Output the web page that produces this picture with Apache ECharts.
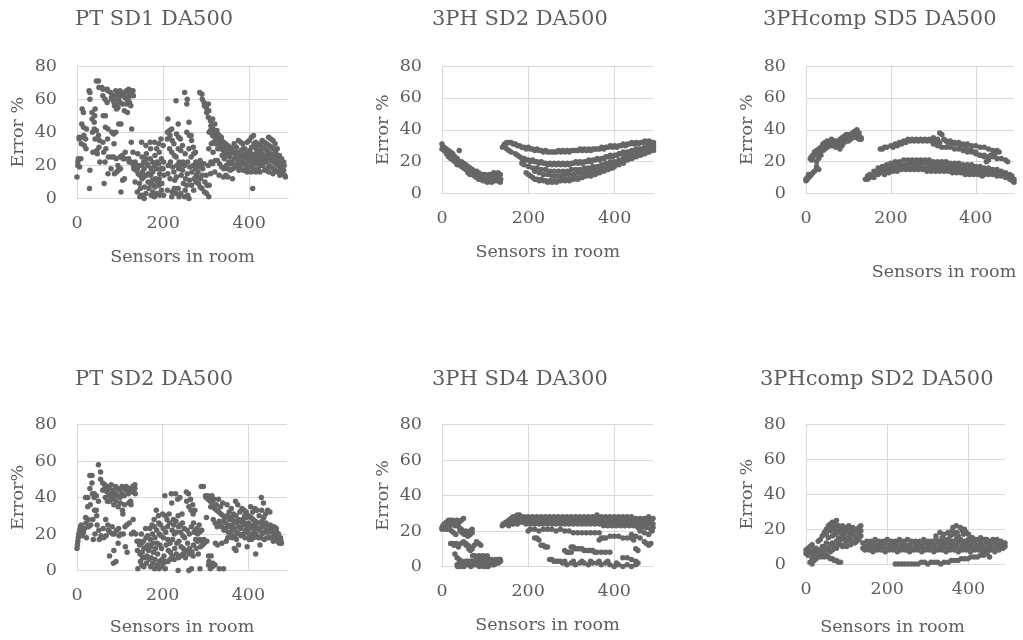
<!DOCTYPE html>
<html>
<head>
<meta charset="utf-8">
<script src="https://cdn.jsdelivr.net/npm/echarts@6/dist/echarts.min.js"></script>
<style>html,body{margin:0;padding:0;background:#fff;}#c{width:1023px;height:640px;}</style>
</head>
<body>
<div id="c"></div>
<script>
// ---------- DATA (x = sensor index, y = error %) ----------
const panelTitles = ['PT SD1 DA500','3PH SD2 DA500','3PHcomp SD5 DA500','PT SD2 DA500','3PH SD4 DA300','3PHcomp SD2 DA500'];
const yAxisNames = ['Error %','Error %','Error %','Error%','Error %','Error %'];
const xAxisName = 'Sensors in room';
const yTicks = [0,20,40,60,80];
const xTicks = [0,200,400];

const ptSd1Da500 = [
[0,13],[2,20],[2,22],[3,24],[5,37],[5,36],[6,19],[9,24],[10,37],[10,33],[11,45],[12,54],
[15,52],[15,43],[16,38],[17,32],[20,36],[21,30],[22,42],[28,65],[30,64],[30,60],[30,17],[29,6],
[35,52],[35,48],[36,40],[37,28],[40,42],[40,46],[41,50],[42,36],[42,54],[45,71],[45,41],[46,29],[47,27],
[50,71],[51,67],[50,38],[52,35],[51,31],[53,22],[58,67],[60,66],[60,62],[61,50],[60,34],[62,28],[63,9],
[65,60],[66,50],[66,43],[67,30],[65,22],[70,66],[71,65],[70,58],[72,42],[71,36],[73,25],[72,15],
[78,64],[80,61],[80,60],[81,40],[80,25],[79,18],[85,62],[85,59],[86,58],[87,56],[85,39],[86,33],[85,25],[87,15],
[90,65],[91,62],[90,57],[92,54],[90,40],[91,24],[92,16],[95,64],[96,60],[95,55],[97,45],[95,20],[96,17],
[100,65],[101,62],[100,58],[102,45],[100,25],[101,18],[102,4],[105,63],[106,57],[105,26],[107,24],[106,11],
[110,64],[111,61],[110,53],[112,28],[111,24],[110,12],[115,65],[116,60],[115,57],[117,52],
[120,66],[121,63],[120,61],[122,58],[120,24],[121,22],[125,64],[126,65],[125,56],[127,42],[126,34],[125,22],
[130,65],[131,62],[130,28],[132,18],[131,20],[135,22],[136,20],[137,17],[135,10],[140,18],[141,27],[142,15],[140,4],
[145,20],[146,14],[145,9],[147,6],[146,1],[150,34],[151,25],[150,20],[152,16],[151,12],[150,2],
[155,22],[156,18],[155,13],[157,7],[156,0],[160,32],[161,27],[160,24],[162,21],[161,14],[160,3],
[165,20],[166,15],[165,10],[167,6],[170,34],[171,30],[170,24],[172,18],[171,14],[170,9],[172,2],
[175,22],[176,16],[175,11],[177,8],[176,4],[180,34],[181,26],[180,20],[182,12],[181,7],[180,1],
[185,30],[186,22],[185,18],[187,10],[186,3],[190,33],[191,28],[190,21],[192,15],[191,12],[190,8],[192,2],
[195,36],[196,24],[195,18],[197,9],[196,5],[200,32],[201,22],[200,18],[202,14],[201,2],
[210,40],[211,48],[210,36],[212,20],[211,15],[210,5],[215,41],[216,38],[215,30],[217,22],[216,12],
[220,42],[221,35],[220,28],[222,19],[221,4],[220,1],[225,33],[226,26],[225,16],[227,11],[226,6],
[230,59],[231,39],[230,25],[232,20],[231,13],[230,3],[235,45],[236,37],[235,30],[237,22],[236,18],[235,6],[237,1],
[240,36],[241,29],[240,20],[242,14],[241,3],[245,32],[246,22],[245,17],[247,9],
[250,64],[251,27],[250,20],[252,12],[251,5],[250,1],[255,57],[256,60],[255,40],[257,22],[256,15],[255,8],[257,2],
[260,46],[261,38],[260,30],[262,19],[261,11],[260,0],[265,38],[266,35],[265,25],[267,16],[266,8],
[270,31],[271,27],[270,20],[272,12],[271,5],[275,28],[276,22],[275,18],[277,14],[276,10],
[280,20],[281,16],[280,13],[282,9],[285,64],[286,23],[285,19],[287,12],[286,7],
[290,63],[291,60],[290,21],[292,18],[291,14],[290,6],[295,58],[296,56],[295,21],[297,10],[296,4],
[300,55],[301,52],[300,14],[302,8],[301,3],[305,57],[306,53],[305,49],[307,40],[306,30],[305,20],[307,8],[306,1],
[310,47],[311,44],[310,41],[312,33],[311,22],[310,15],[315,48],[316,42],[315,38],[317,34],[316,28],[315,21],
[320,45],[321,40],[320,37],[322,33],[321,23],[320,16],[325,41],[326,39],[325,36],[327,30],[326,23],
[330,38],[331,36],[330,33],[332,30],[331,21],[330,14],[335,37],[336,35],[335,31],[337,26],[336,19],
[340,34],[341,32],[340,29],[342,24],[341,18],[340,13],[345,33],[346,30],[345,27],[347,20],[346,14],
[350,32],[351,29],[350,26],[352,22],[351,18],[350,13],[355,31],[356,28],[355,25],[357,21],[356,17],
[360,30],[361,28],[360,22],[362,18],[361,12],[365,33],[366,27],[365,24],[367,20],
[370,31],[371,28],[370,24],[372,21],[371,19],[375,35],[376,26],[375,23],[377,20],[376,17],
[380,34],[381,29],[380,25],[382,22],[381,18],[385,33],[386,30],[385,26],[387,21],[386,17],
[390,30],[391,27],[390,24],[392,20],[391,17],[395,34],[396,27],[395,25],[397,22],[396,18],[395,16],
[400,35],[401,29],[400,26],[402,23],[401,19],[408,6],[405,37],[406,31],[405,27],[407,24],[406,20],[405,16],
[410,38],[411,33],[410,26],[412,22],[411,18],[415,34],[416,30],[415,27],[417,24],[416,21],[415,16],
[420,32],[421,28],[420,25],[422,22],[421,18],[425,33],[426,29],[425,26],[427,23],[426,20],[425,16],
[430,35],[431,31],[430,27],[432,24],[431,20],[435,34],[436,30],[435,26],[437,22],[436,17],
[440,33],[441,29],[440,26],[442,23],[441,18],[445,37],[446,32],[445,28],[447,24],[446,20],[445,16],
[450,36],[451,31],[450,27],[452,23],[451,19],[455,35],[456,30],[455,26],[457,22],[456,18],[455,15],
[460,33],[461,28],[460,24],[462,21],[461,17],[465,30],[466,26],[465,23],[467,20],[466,16],
[470,26],[471,22],[470,20],[472,17],[471,14],[475,24],[476,21],[475,18],[477,15],[480,22],[481,20],[480,17],[482,14],[484,13]
];

const ph3Sd2Da500 = [
[0,31],[5,29],[10,28],[15,27],[20,26],[25,25],[30,23],[35,22],[40,27],[45,20],[50,19],[55,18],[60,17],[65,16],[70,15],[75,14],[80,14],[85,13],[90,12],[95,12],[100,12],[105,11],[110,12],[115,12],[120,13],[125,12],[130,13],[135,12],
[2,29],[7,28],[12,26],[17,25],[22,24],[27,23],[32,21],[37,20],[42,20],[47,18],[52,17],[57,16],[62,15],[67,14],[72,13],[77,12],[82,11],[87,11],[92,10],[97,10],[102,10],[107,9],[112,10],[117,10],[122,10],[127,10],[132,10],[136,9],
[0,28],[5,27],[10,25],[15,23],[20,22],[25,21],[30,20],[35,18],[40,18],[45,17],[50,16],[55,15],[60,13],[65,12],[70,12],[75,11],[80,10],[85,9],[90,9],[95,8],[100,8],[105,7],[110,8],[115,7],[120,8],[125,8],[130,8],[135,7],
[140,29],[145,31],[150,32],[155,32],[160,32],[170,31],[180,30],[190,29],[200,29],[210,28],[220,28],[230,27],[240,27],[250,26],[260,26],[270,27],[280,27],[290,27],[300,27],[310,27],[320,28],[330,28],[340,28],[350,28],[360,28],[370,29],[380,29],[390,30],[400,30],[410,30],[420,31],[430,31],[440,32],[450,32],[460,32],[470,33],[480,33],[490,32],
[143,30],[148,31],[165,31],[175,30],[185,29],[195,28],[205,28],[215,27],[225,27],[235,26],[245,26],[255,26],[265,26],[275,26],[285,26],[295,26],[305,27],[315,27],[325,27],[335,27],[345,27],[355,28],[365,28],[375,28],[385,29],[395,29],[405,29],[415,30],[425,30],[435,31],[445,31],[455,31],[465,32],[475,32],[485,31],
[150,28],[155,27],[160,26],[170,25],[180,23],[190,22],[200,21],[210,21],[220,20],[230,20],[240,19],[250,19],[260,19],[270,19],[280,19],[290,19],[300,19],[310,20],[320,20],[330,20],[340,21],[350,21],[360,22],[370,22],[380,23],[390,24],[400,24],[410,25],[420,26],[430,26],[440,27],[450,28],[460,28],[470,29],[480,30],[490,30],
[175,24],[185,22],[195,21],[205,20],[215,20],[225,19],[235,19],[245,18],[255,18],[265,18],[275,18],[285,18],[295,18],[305,19],[315,19],[325,19],[335,20],[345,20],[355,21],[365,21],[375,22],[385,23],[395,23],[405,24],[415,25],[425,25],[435,26],[445,27],[455,27],[465,28],[475,29],[485,29],
[185,19],[190,18],[200,17],[210,16],[220,16],[230,15],[240,15],[250,14],[260,14],[270,14],[280,14],[290,14],[300,15],[310,15],[320,15],[330,16],[340,16],[350,17],[360,17],[370,18],[380,19],[390,20],[400,20],[410,21],[420,22],[430,23],[440,24],[450,25],[460,26],[470,27],[480,28],[490,29],
[215,14],[225,13],[235,12],[245,12],[255,11],[265,11],[275,11],[285,12],[295,12],[305,12],[315,13],[325,13],[335,14],[345,14],[355,15],[365,16],[375,16],[385,17],[395,18],[405,19],[415,20],[425,21],[435,22],[445,23],[455,24],[465,25],[475,26],
[195,13],[200,12],[210,10],[220,9],[230,9],[240,8],[250,8],[260,8],[270,8],[280,9],[290,9],[300,9],[310,10],[320,10],[330,11],[340,12],[350,12],[360,13],[370,14],[380,15],[390,16],[400,17],[410,18],[420,19],[430,21],[440,22],[450,23],[460,24],[470,25],[480,26],[490,27],
[205,11],[215,9],[225,8],[235,8],[245,7],[255,7],[265,7],[275,8],[285,8],[295,8],[305,9],[315,9],[325,10],[335,11],[345,11],[355,12],[365,13],[375,14],[385,15],[395,16]
];

const ph3compSd5Da500 = [
[0,8],[0,9],[3,9],[3,10],[6,10],[6,12],[10,11],[10,22],[13,12],[13,23],[13,21],[16,13],[16,24],[16,22],[20,14],[20,26],[20,24],
[25,16],[25,17],[25,27],[25,25],[25,20],[30,15],[30,28],[30,26],[30,22],[35,29],[35,27],[35,24],[40,31],[40,29],[40,27],
[45,32],[45,30],[45,28],[50,33],[50,31],[50,29],[55,32],[55,30],[60,34],[60,32],[60,30],[65,33],[65,31],[70,33],[70,31],[70,29],
[75,32],[75,30],[80,34],[80,31],[80,28],[85,35],[85,33],[85,30],[90,36],[90,34],[90,32],[95,37],[95,35],[95,33],
[100,37],[100,35],[100,33],[105,36],[105,34],[110,38],[110,36],[110,35],[115,39],[115,37],[120,40],[120,37],[120,35],[125,38],[125,36],[125,34],[130,35],[130,34],
[140,9],[145,11],[150,12],[160,14],[170,16],[180,17],[190,18],[200,19],[210,20],[220,20],[230,21],[240,21],[250,21],[260,21],[270,21],[280,21],[290,21],[300,20],[310,20],[320,20],[330,20],[340,19],[350,19],[360,19],[370,18],[380,18],[390,18],[400,17],[410,17],[420,16],[430,16],[440,15],[450,15],[460,14],[470,13],[480,12],[485,11],[490,9],
[145,9],[150,10],[155,11],[165,13],[175,14],[185,15],[195,16],[205,17],[215,18],[225,18],[235,18],[245,19],[255,19],[265,19],[275,19],[285,19],[295,18],[305,18],[315,18],[325,18],[335,17],[345,17],[355,17],[365,16],[375,16],[385,16],[395,15],[405,15],[415,14],[425,14],[435,13],[445,13],[455,13],[465,12],[475,11],[483,10],[488,8],
[160,10],[170,12],[180,13],[190,14],[200,15],[210,15],[220,16],[230,16],[240,16],[250,17],[260,17],[270,17],[280,16],[290,16],[300,16],[310,16],[320,16],[330,15],[340,15],[350,15],[360,14],[370,14],[380,14],[390,13],[400,13],[410,13],[420,12],[430,12],[440,12],[450,11],[460,11],[470,10],[480,9],[486,8],[490,7],
[185,12],[195,13],[205,14],[215,14],[225,15],[235,15],[245,15],[255,15],[265,15],[275,15],[285,14],[295,14],[305,14],[315,14],[325,14],[335,14],[345,13],[355,13],[365,13],[375,12],[385,12],[395,12],[405,12],[415,11],
[175,28],[180,28],[185,29],[190,29],[200,30],[210,31],[220,32],[230,33],[240,34],[250,34],[260,34],[270,34],[280,34],[290,34],[300,35],[310,34],[315,38],[320,37],[325,34],[330,33],[340,33],[350,32],[360,32],[370,31],[380,31],[390,30],[400,30],[410,29],[420,29],[430,28],[440,27],[450,27],[455,26],
[205,29],[215,30],[225,31],[235,32],[245,33],[255,33],[265,33],[275,33],[285,33],[295,33],[305,32],[315,32],[335,32],[345,31],[355,31],[365,30],[375,30],
[300,31],[310,30],[320,29],[330,29],[340,29],[350,28],[360,28],[370,27],[380,26],[390,26],[400,25],[410,24],[420,24],[430,23],[440,23],[450,22],[460,22],[470,21],[475,20],
[380,28],[390,27],[400,26],[410,24],[420,23],[425,20],[430,21],[435,24],[445,25]
];

const ptSd2Da500 = [
[0,12],[1,14],[2,16],[3,18],[4,20],[6,22],[8,24],[10,25],[12,19],[15,21],[18,23],
[20,40],[20,29],[21,26],[22,18],[25,40],[25,35],[26,28],[27,24],[30,52],[30,45],[31,36],[32,25],
[35,52],[35,48],[36,42],[37,28],[38,17],[40,42],[40,40],[41,33],[42,20],[45,41],[45,33],[46,30],[47,25],
[50,58],[50,38],[51,22],[52,17],[55,54],[55,50],[56,19],[60,48],[60,44],[61,23],[62,18],
[65,47],[65,45],[66,40],[67,28],[68,19],[70,46],[70,43],[71,38],[72,25],[73,22],[75,45],[75,41],[76,38],[77,21],[76,8],
[80,47],[80,42],[81,39],[82,24],[83,20],[85,44],[85,40],[86,36],[87,20],[86,11],[85,4],[90,46],[90,42],[91,38],[92,22],[91,5],
[95,45],[95,41],[96,35],[97,23],[98,19],[96,15],[100,44],[100,40],[101,37],[102,20],[105,46],[105,42],[106,33],[107,31],[108,20],
[110,45],[110,41],[111,36],[112,24],[113,13],[115,46],[115,44],[116,25],[117,10],[120,45],[120,42],[121,37],[122,26],
[125,44],[125,38],[126,36],[127,20],[130,46],[130,43],[131,28],[132,21],[135,47],[135,45],[136,42],[137,20],
[140,16],[141,11],[142,1],[145,16],[146,14],[147,9],[148,5],[150,20],[151,15],[152,10],[153,7],[151,3],
[155,16],[156,12],[157,7],[156,2],[160,23],[161,18],[162,13],[163,8],[162,4],[165,19],[166,14],[167,11],[168,6],
[170,23],[171,17],[172,13],[173,7],[172,2],[175,25],[176,20],[177,15],[178,10],[177,4],
[180,28],[181,24],[182,18],[183,12],[182,6],[181,1],[185,33],[186,22],[187,15],[188,9],[187,3],
[190,30],[191,26],[192,20],[193,14],[192,5],[191,1],[195,25],[196,19],[197,12],[198,6],[197,2],
[200,31],[201,23],[202,18],[203,8],[202,4],[205,41],[206,30],[207,21],[208,14],[207,5],[206,1],[210,28],[211,24],[212,17],[213,11],[212,5],
[215,31],[216,26],[217,15],[218,10],[217,6],[220,42],[221,37],[222,22],[223,17],[222,8],[225,28],[226,25],[227,20],[228,12],[227,6],
[230,42],[231,27],[232,21],[233,15],[232,9],[235,39],[236,30],[237,24],[238,16],[237,7],[236,0],[240,40],[241,25],[242,21],[243,13],[242,8],
[245,31],[246,26],[247,19],[248,12],[247,9],[250,23],[251,18],[252,10],[253,7],[255,43],[256,38],[257,22],[258,15],[257,11],
[260,42],[261,35],[262,20],[263,12],[262,9],[261,0],[265,39],[266,33],[267,24],[268,10],[267,1],[270,36],[271,31],[272,26],[273,21],[272,14],[271,8],
[275,33],[276,22],[277,17],[278,12],[280,23],[281,20],[282,16],[283,9],[285,25],[286,21],[287,17],[288,13],[287,1],
[290,46],[291,22],[292,16],[293,14],[295,46],[296,17],[297,15],[300,41],[301,40],[302,29],[303,16],
[305,41],[306,39],[307,8],[308,5],[307,3],[310,40],[311,38],[312,35],[313,8],[312,4],[311,1],[315,41],[316,38],[317,35],[318,28],[317,4],[316,2],
[320,39],[321,34],[322,26],[323,15],[322,3],[325,36],[326,33],[327,24],[328,14],[330,39],[331,32],[332,27],[333,25],[332,1],
[335,35],[336,31],[337,24],[338,15],[340,37],[341,30],[342,27],[343,22],[342,1],[345,29],[346,26],[347,23],[348,16],
[350,36],[351,30],[352,25],[353,21],[352,18],[355,32],[356,28],[357,24],[358,20],[360,34],[361,29],[362,25],[363,22],[362,18],
[365,31],[366,27],[367,23],[368,19],[367,12],[370,38],[371,30],[372,26],[373,21],[372,17],[371,11],[375,36],[376,28],[377,24],[378,20],[377,14],
[380,32],[381,27],[382,23],[383,19],[385,34],[386,28],[387,25],[388,20],[390,33],[391,30],[392,26],[393,22],[392,18],
[395,32],[396,29],[397,24],[398,21],[397,13],[400,30],[401,26],[402,23],[403,19],[402,17],[405,35],[406,29],[407,24],[408,20],[407,17],
[410,32],[411,28],[412,25],[413,22],[412,18],[415,34],[416,27],[417,24],[418,20],[417,9],[420,33],[421,26],[422,23],[423,18],
[425,30],[426,26],[427,22],[428,18],[427,14],[430,40],[431,33],[432,27],[433,24],[432,20],[435,37],[436,29],[437,25],[438,21],[437,17],
[440,31],[441,26],[442,22],[443,18],[445,33],[446,24],[447,21],[448,18],[450,32],[451,25],[452,22],[453,18],
[455,24],[456,21],[457,18],[458,16],[460,24],[461,20],[462,17],[465,23],[466,21],[467,19],[468,16],[470,20],[471,17],[472,15],[475,18],[476,16],[477,15]
];

const ph3Sd4Da300 = [
[0,21],[0,22],[2,23],[5,22],[5,24],[8,21],[10,23],[10,25],[12,21],[15,24],[15,26],[17,22],[20,25],[20,26],[22,20],[25,24],[25,26],[27,19],
[30,25],[30,23],[32,18],[35,26],[35,24],[40,25],[40,22],[42,20],[45,26],[45,21],[47,19],[50,27],[50,19],[52,18],[55,20],[55,18],[60,19],[60,17],[65,20],[65,18],[70,21],[70,19],
[20,13],[25,13],[28,12],[30,7],[33,13],[35,5],[38,11],[40,4],[44,13],[45,3],[50,14],[50,2],[55,13],[56,12],[60,12],[62,10],[65,11],[66,9],[70,10],[71,6],
[75,12],[76,6],[80,14],[81,5],[85,13],[86,6],[90,12],[90,5],[95,6],[95,4],[100,5],[101,3],[105,6],[105,4],[110,4],[111,3],[115,4],[120,3],[125,4],[130,4],[134,4],
[35,1],[36,0],[40,2],[41,1],[42,0],[45,1],[46,3],[50,2],[51,0],[55,1],[56,3],[57,2],[60,3],[61,1],[62,2],[65,2],[66,3],[67,0],[70,3],[71,2],[72,1],
[75,3],[76,2],[77,1],[80,3],[81,2],[82,1],[85,2],[86,3],[87,0],[90,3],[91,2],[92,1],[95,2],[96,1],[97,0],[100,3],[101,2],[102,0],[105,2],[106,1],[107,0],
[110,2],[111,1],[115,3],[116,2],[117,1],[120,2],[121,1],[125,3],[126,2],[130,3],[131,2],[135,4],[136,3],
[140,23],[145,24],[150,25],[155,26],[160,27],[165,28],[170,28],[175,29],[180,29],[190,28],[200,28],[210,28],[220,28],[230,28],[240,28],[250,28],[260,28],[270,28],[280,28],[290,28],[300,28],[310,28],[320,28],[330,28],[340,28],[350,28],[360,29],[370,28],[380,28],[390,28],[400,28],[410,28],[420,28],[430,28],[440,28],[450,27],[460,27],[470,27],[480,28],[490,27],
[142,24],[148,25],[153,24],[158,25],[163,26],[168,27],[173,27],[178,28],[185,27],[195,27],[205,27],[215,27],[225,27],[235,27],[245,27],[255,27],[265,27],[275,27],[285,27],[295,27],[305,27],[315,27],[325,27],[335,27],[345,27],[355,27],[365,27],[375,27],[385,27],[395,27],[405,27],[415,27],[425,27],[435,27],[445,26],[455,26],[465,26],[475,26],[485,26],
[150,24],[160,25],[170,26],[180,26],[190,26],[200,26],[210,26],[220,26],[230,26],[240,26],[250,26],[260,26],[270,26],[280,26],[290,26],[300,26],[310,26],[320,25],[330,26],[340,25],[350,26],[360,25],[370,25],[380,25],[390,25],[400,25],[410,25],[420,25],[430,25],[440,25],[450,24],[460,24],[470,24],[480,24],[490,24],
[155,23],[165,24],[175,24],[185,25],[195,24],[205,24],[215,24],[225,24],[235,24],[245,24],[255,24],[265,24],[275,24],[285,24],[295,24],[305,24],[315,24],[325,24],[335,24],[345,24],[355,24],[365,24],[375,23],[385,23],[395,23],[405,23],[415,23],[425,23],[435,23],[445,23],[455,22],[465,22],[475,22],[485,21],[490,22],
[200,20],[205,21],[215,21],[225,20],[235,21],[245,21],[255,21],[265,20],[275,21],[285,20],[295,20],[305,19],[315,19],[325,19],[335,19],[345,19],[355,19],[365,19],[460,20],[470,19],[480,18],[488,20],
[215,16],[220,16],[225,15],[230,12],[235,12],[240,11],[245,11],[250,4],[255,4],[260,3],[265,3],[270,3],[275,3],
[285,9],[290,8],[295,8],[300,8],[300,11],[305,11],[310,10],[315,10],[320,10],[325,10],[330,9],[335,9],[340,9],[345,9],[350,9],[355,8],[360,8],[370,8],[380,8],[390,8],
[365,15],[370,16],[375,16],[380,16],[390,17],[400,17],[410,17],[420,16],[430,16],[440,16],[445,15],[450,10],[455,9],
[440,18],[450,17],[460,16],[470,14],[475,13],[480,12],[485,13],
[420,5],[430,5],[440,4],[450,3],[455,2],
[280,2],[290,1],[300,2],[310,1],[320,2],[330,2],[340,1],[350,2],[360,2],[370,1],[380,2],[390,1],[400,0],[410,1],[420,0],[430,1],[440,0],[450,1],[285,3],[305,3],[325,3],[345,3],[365,3],[385,3],[405,2]
];

const ph3compSd2Da500 = [
[0,8],[0,6],[5,9],[5,5],[10,10],[10,7],[10,1],[15,11],[15,6],[15,3],[15,0],[20,8],[20,5],[20,2],[25,9],[25,6],[25,3],
[30,13],[30,7],[30,5],[35,14],[35,8],[35,4],[40,16],[40,10],[40,6],[40,5],[45,18],[45,10],[45,7],[45,4],
[50,20],[50,17],[50,12],[50,8],[50,5],[55,22],[55,15],[55,9],[55,4],[60,23],[60,19],[60,11],[60,7],[60,3],
[65,24],[65,21],[65,16],[65,12],[65,8],[65,3],[70,23],[70,20],[70,17],[70,10],[70,2],[75,25],[75,22],[75,18],[75,13],[75,9],[75,2],
[80,22],[80,19],[80,15],[80,11],[80,1],[85,21],[85,18],[85,14],[85,11],[85,1],[90,22],[90,19],[90,16],[90,10],[95,20],[95,17],[95,14],[95,11],
[100,21],[100,18],[100,13],[100,10],[105,22],[105,19],[105,15],[110,20],[110,17],[110,14],[110,11],[115,21],[115,18],[115,13],
[120,20],[120,16],[120,12],[125,19],[125,15],[125,13],[130,21],[130,18],[130,14],[135,22],[135,19],[135,16],
[140,12],[150,13],[160,13],[170,14],[180,13],[190,13],[200,14],[210,13],[220,13],[230,14],[240,13],[250,14],[260,13],[270,13],[280,13],[290,14],[300,13],[310,13],[320,14],[330,13],[340,13],[350,14],[360,13],[370,14],[380,14],[390,13],[400,14],[410,13],[420,14],[430,13],[440,14],[450,13],[460,14],[470,14],[480,13],[490,12],
[145,10],[155,11],[165,12],[175,11],[185,11],[195,12],[205,11],[215,11],[225,12],[235,11],[245,11],[255,11],[265,12],[275,11],[285,11],[295,12],[305,11],[315,11],[325,12],[335,11],[345,12],[355,11],[365,11],[375,12],[385,11],[395,12],[405,11],[415,12],[425,11],[435,11],[445,12],[455,11],[465,12],[475,11],[485,12],
[140,9],[150,10],[160,10],[170,9],[180,10],[190,10],[200,9],[210,10],[220,10],[230,9],[240,10],[250,10],[260,9],[270,10],[280,10],[290,9],[300,10],[310,10],[320,9],[330,10],[340,10],[350,9],[360,10],[370,10],[380,9],[390,10],[400,10],[410,9],[420,10],[430,10],[440,9],[450,10],[460,9],[470,10],[480,10],[490,10],
[145,8],[155,8],[165,7],[175,8],[185,8],[195,7],[205,8],[215,8],[225,7],[235,8],[245,8],[255,7],[265,8],[275,8],[285,7],[295,8],[305,8],[315,7],[325,8],[335,8],[345,7],[355,8],[365,8],[375,7],[385,8],[395,8],[405,7],[415,8],[425,8],[435,7],[445,8],[455,8],[465,7],[475,8],[485,9],
[320,16],[330,18],[335,15],[340,17],[350,18],[355,16],[360,19],[362,21],[365,17],[370,22],[372,18],[375,16],[380,21],[385,19],[388,17],[390,20],[395,18],[400,17],[405,15],[410,15],[415,14],[340,14],[380,14],[430,15],[445,14],
[220,0],[228,0],[236,0],[244,0],[252,0],[260,0],[268,0],[276,0],[284,1],[292,1],[300,0],[308,1],[316,1],[324,1],[332,0],[340,1],[350,1],[358,2],[366,2],[374,2],[382,3],[390,3],[398,3],[406,4],[414,4],[422,4],[430,5],[438,5],[446,6],[452,4]
];

const panelData = [ptSd1Da500, ph3Sd2Da500, ph3compSd5Da500, ptSd2Da500, ph3Sd4Da300, ph3compSd2Da500];

// ---------- LAYOUT / STYLE ----------
const FONT = 'DejaVu Serif';
const TXT = '#5d5d5d';
const GRIDC = '#d9d9d9';
const DOT = '#666666';
const grids = [
  {left:77, top:66, width:211, height:132.5},
  {left:442, top:66, width:211.5, height:127.5},
  {left:806, top:66, width:208, height:127.5},
  {left:77, top:424.5, width:210, height:146},
  {left:442, top:424.5, width:211, height:142},
  {left:806, top:424.5, width:199, height:139.5}
];
const titlePos = [[75,9],[432,9],[763,9],[75,369],[432,369],[760,369]];
const xNameGap = [50,50,70,48,50,54];
const xNamePad = [[0,0,0,0],[0,0,0,0],[0,0,0,68],[0,0,0,0],[0,0,0,0],[0,26,0,0]];

const option = {
  animation: false,
  backgroundColor: '#fff',
  title: panelTitles.map((t,i)=>({
    text: t, left: titlePos[i][0], top: titlePos[i][1], padding: 0,
    textStyle: {fontFamily: FONT, fontSize: 21, fontWeight: 'normal', color: TXT}
  })),
  grid: grids,
  xAxis: grids.map((g,i)=>({
    gridIndex: i, type: 'value', min: xTicks[0], max: 490, interval: xTicks[1]-xTicks[0],
    name: xAxisName, nameLocation: 'middle', nameGap: xNameGap[i],
    nameTextStyle: {fontFamily: FONT, fontSize: 17.5, color: TXT, padding: xNamePad[i]},
    axisLine: {show: true, lineStyle: {color: GRIDC, width: 1}},
    axisTick: {show: false},
    axisLabel: {fontFamily: FONT, fontSize: 17.5, color: TXT, margin: 16, showMaxLabel: false,
      formatter: v => xTicks.indexOf(v) >= 0 ? String(v) : ''},
    splitLine: {show: true, showMaxLine: false, lineStyle: {color: GRIDC, width: 1}}
  })),
  yAxis: grids.map((g,i)=>({
    gridIndex: i, type: 'value', min: yTicks[0], max: yTicks[yTicks.length-1], interval: yTicks[1]-yTicks[0],
    name: yAxisNames[i], nameLocation: 'middle', nameGap: 50, nameRotate: 90,
    nameTextStyle: {fontFamily: FONT, fontSize: 17.5, color: TXT},
    axisLine: {show: true, lineStyle: {color: GRIDC, width: 1}},
    axisTick: {show: false},
    axisLabel: {fontFamily: FONT, fontSize: 17.5, color: TXT, margin: 20},
    splitLine: {show: true, lineStyle: {color: GRIDC, width: 1}}
  })),
  series: panelData.map((d,i)=>({
    type: 'scatter', xAxisIndex: i, yAxisIndex: i, data: d,
    symbol: 'circle', symbolSize: 5.5, silent: true,
    itemStyle: {color: DOT, opacity: 1}
  }))
};
const chart = echarts.init(document.getElementById('c'), null, {renderer: 'canvas'});
chart.setOption(option);
</script>
</body>
</html>
